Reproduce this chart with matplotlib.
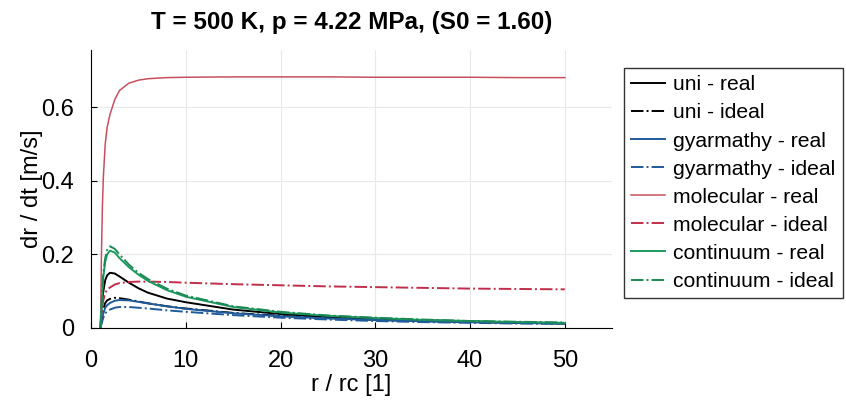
import matplotlib
matplotlib.use('Agg')
import matplotlib.pyplot as plt

# r / rc sample points
r = [1, 1.1, 1.2, 1.3, 1.5, 1.7, 2, 2.5, 3, 4, 5, 6, 8, 10, 15, 20, 25, 30, 35, 40, 45, 50]

# growth rate dr/dt [m/s]
uni_real = [0, 0.05, 0.08, 0.10, 0.13, 0.143, 0.15, 0.148, 0.14, 0.123, 0.108, 0.096, 0.08, 0.07,
            0.05, 0.038, 0.03, 0.025, 0.021, 0.018, 0.015, 0.013]
uni_ideal = [0, 0.025, 0.04, 0.052, 0.068, 0.075, 0.079, 0.082, 0.081, 0.077, 0.072, 0.067, 0.059, 0.053,
             0.041, 0.033, 0.027, 0.022, 0.019, 0.016, 0.014, 0.012]
gyarmathy_real = [0, 0.016, 0.03, 0.04, 0.055, 0.062, 0.068, 0.074, 0.076, 0.075, 0.071, 0.067, 0.059, 0.052,
                  0.04, 0.032, 0.026, 0.022, 0.018, 0.016, 0.014, 0.012]
gyarmathy_ideal = [0, 0.01, 0.02, 0.028, 0.04, 0.045, 0.05, 0.055, 0.057, 0.057, 0.055, 0.053, 0.048, 0.044,
                   0.035, 0.028, 0.023, 0.019, 0.016, 0.014, 0.012, 0.011]
molecular_real = [0, 0.20, 0.33, 0.41, 0.50, 0.545, 0.58, 0.62, 0.645, 0.665, 0.673, 0.677, 0.68, 0.681,
                  0.682, 0.682, 0.682, 0.681, 0.681, 0.681, 0.680, 0.680]
molecular_ideal = [0, 0.035, 0.06, 0.075, 0.095, 0.104, 0.11, 0.118, 0.122, 0.125, 0.126, 0.126, 0.125, 0.123,
                   0.119, 0.116, 0.113, 0.111, 0.109, 0.107, 0.106, 0.105]
continuum_real = [0, 0.06, 0.10, 0.14, 0.18, 0.20, 0.21, 0.205, 0.19, 0.165, 0.145, 0.128, 0.103, 0.085,
                  0.057, 0.042, 0.033, 0.027, 0.022, 0.019, 0.016, 0.014]
continuum_ideal = [0, 0.065, 0.11, 0.15, 0.19, 0.212, 0.222, 0.215, 0.20, 0.172, 0.15, 0.133, 0.107, 0.088,
                   0.059, 0.044, 0.034, 0.028, 0.023, 0.019, 0.017, 0.015]

series = [
    ('uni - real', uni_real, 'black', '-'),
    ('uni - ideal', uni_ideal, 'black', '-.'),
    ('gyarmathy - real', gyarmathy_real, '#1f5a9a', '-'),
    ('gyarmathy - ideal', gyarmathy_ideal, '#1f5a9a', '-.'),
    ('molecular - real', molecular_real, '#c8505e', '-'),
    ('molecular - ideal', molecular_ideal, '#c02e4a', '-.'),
    ('continuum - real', continuum_real, '#1c9a5e', '-'),
    ('continuum - ideal', continuum_ideal, '#1c8a55', '-.'),
]

plt.rcParams['font.family'] = ['Liberation Sans', 'DejaVu Sans']

fig = plt.figure(figsize=(8.46, 4.0), dpi=100)
ax = fig.add_axes([0.1076, 0.18, 0.616, 0.695])

for label, vals, color, ls in series:
    lw = 1.1 if label == 'molecular - real' else 1.4
    ax.plot(r, vals, color=color, linestyle=ls, linewidth=lw, label=label)

ax.set_xlim(0, 55)
ax.set_ylim(0, 0.755)
ax.set_xticks([0, 10, 20, 30, 40, 50])
ax.set_yticks([0, 0.2, 0.4, 0.6])
ax.set_yticklabels(['0', '0.2', '0.4', '0.6'])
ax.tick_params(direction='in', labelsize=17, length=4)
ax.tick_params(axis='x', pad=16)
ax.tick_params(axis='y', pad=12)
ax.grid(True, color='#e8e8e8', linewidth=0.8)
ax.spines['top'].set_visible(False)
ax.spines['right'].set_visible(False)

ax.set_xlabel('r / rc [1]', fontsize=17, labelpad=1)
ax.set_ylabel('dr / dt [m/s]', fontsize=17, labelpad=-1)
ax.set_title('T = 500 K, p = 4.22 MPa, (S0 = 1.60)', fontsize=17.5, fontweight='bold', pad=15)

fig.legend(loc='upper right', bbox_to_anchor=(0.9965, 0.83), borderaxespad=0, fontsize=15.2,
           frameon=True, fancybox=False, edgecolor='black', handlelength=1.6,
           handletextpad=0.4, labelspacing=0.43, borderpad=0.35)

fig.savefig('out.png', dpi=100)
